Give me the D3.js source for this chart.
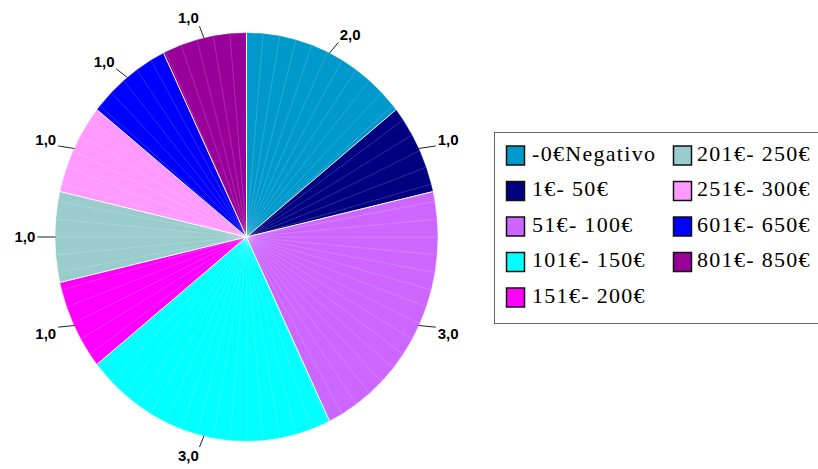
<!DOCTYPE html>
<html>
<head>
<meta charset="utf-8">
<script src="https://cdn.jsdelivr.net/npm/d3@7"></script>
<style>
  body { margin: 0; background: #fff; }
  svg { display: block; }
</style>
</head>
<body>
<div id="chart"></div>
<script>
// data
var categories = ["-0€Negativo", "1€- 50€", "51€- 100€", "101€- 150€", "151€- 200€",
  "201€- 250€", "251€- 300€", "601€- 650€", "801€- 850€"];
var values = [2, 1, 3, 3, 1, 1, 1, 1, 1];
var valueLabels = ["2,0", "1,0", "3,0", "3,0", "1,0", "1,0", "1,0", "1,0", "1,0"];
var colors = ["#0099cc", "#000080", "#cc66ff", "#00ffff", "#ff00ff",
  "#99cccc", "#ff99ff", "#0000ff", "#990099"];

var W = 818, H = 469;
var cx = 246.5, cy = 237, rx = 191, ry = 204;

var svg = d3.select("#chart").append("svg")
  .attr("width", W).attr("height", H);

var pie = d3.pie().sort(null).value(function(d) { return d; });
var arcs = pie(values);

// point on the ellipse at angle a (clockwise from 12 o'clock), scaled by k
function pt(a, k) {
  return [cx + rx * k * Math.sin(a), cy - ry * k * Math.cos(a)];
}

var step = Math.PI * 2 / 72;

var g = svg.append("g");
arcs.forEach(function(d, i) {
  var a0 = d.startAngle, a1 = d.endAngle;
  var pts = [[cx, cy]];
  var angs = [a0];
  var a = Math.ceil(a0 / step + 1e-6) * step;
  while (a < a1 - 1e-6) { angs.push(a); a += step; }
  angs.push(a1);
  angs.forEach(function(t) { pts.push(pt(t, 1)); });
  g.append("path")
    .attr("d", d3.line()(pts) + "Z")
    .attr("fill", colors[i])
    .attr("stroke", colors[i])
    .attr("stroke-width", 0.5);
  // faint inner radial lines
  angs.slice(1, -1).forEach(function(t) {
    var p = pt(t, 1);
    g.append("line")
      .attr("x1", cx).attr("y1", cy).attr("x2", p[0]).attr("y2", p[1])
      .attr("stroke", "#fff").attr("stroke-opacity", 0.22).attr("stroke-width", 0.8);
  });
});
// slice separators
arcs.forEach(function(d) {
  var p = pt(d.startAngle, 1);
  g.append("line")
    .attr("x1", cx).attr("y1", cy).attr("x2", p[0]).attr("y2", p[1])
    .attr("stroke", "#fff").attr("stroke-width", 1);
});

// value labels with leader lines
var lab = svg.append("g");
arcs.forEach(function(d, i) {
  var mid = (d.startAngle + d.endAngle) / 2;
  var edge = pt(mid, 1);
  var anc = pt(mid, 1.1);
  var right = Math.sin(mid) > 0.01;
  var left = Math.sin(mid) < -0.01;
  var t = lab.append("text")
    .attr("x", right ? anc[0] + 2 : (left ? anc[0] - 1 : anc[0]))
    .attr("y", anc[1] + 5)
    .attr("text-anchor", right ? "start" : (left ? "end" : "middle"))
    .attr("font-family", "Liberation Sans, Arial, sans-serif")
    .attr("font-size", 15)
    .attr("font-weight", "bold")
    .attr("fill", "#000")
    .text(valueLabels[i]);
  var bb = t.node().getBBox();
  var nx = Math.max(bb.x, Math.min(bb.x + bb.width, edge[0]));
  var ny = Math.max(bb.y + 2, Math.min(bb.y + bb.height - 2, edge[1]));
  var dx = nx - edge[0], dy = ny - edge[1];
  var len = Math.sqrt(dx * dx + dy * dy);
  var gap = 2;
  var ex = edge[0] + dx * (len - gap) / len, ey = edge[1] + dy * (len - gap) / len;
  lab.append("line")
    .attr("x1", edge[0]).attr("y1", edge[1]).attr("x2", ex).attr("y2", ey)
    .attr("stroke", "#222").attr("stroke-width", 1);
});

// legend
var lg = svg.append("g");
lg.append("rect")
  .attr("x", 494.5).attr("y", 132.5).attr("width", 340).attr("height", 191)
  .attr("fill", "#fff").attr("stroke", "#666").attr("stroke-width", 1);

var rowY = d3.scaleLinear().domain([0, 1]).range([145.5, 181]);
var colX = [506, 673];
var textX = [532, 697];
categories.forEach(function(c, i) {
  var col = i < 5 ? 0 : 1;
  var row = i < 5 ? i : i - 5;
  var y = rowY(row);
  lg.append("rect")
    .attr("x", colX[col] + 0.5).attr("y", y + 0.5)
    .attr("width", 18).attr("height", 19)
    .attr("fill", colors[i]).attr("stroke", "#111").attr("stroke-width", 1.5);
  lg.append("text")
    .attr("x", textX[col]).attr("y", y + 15)
    .attr("font-family", "Liberation Serif, Times New Roman, serif")
    .attr("font-size", 22)
    .attr("letter-spacing", 1.3)
    .attr("fill", "#000")
    .text(c);
});
</script>
</body>
</html>
